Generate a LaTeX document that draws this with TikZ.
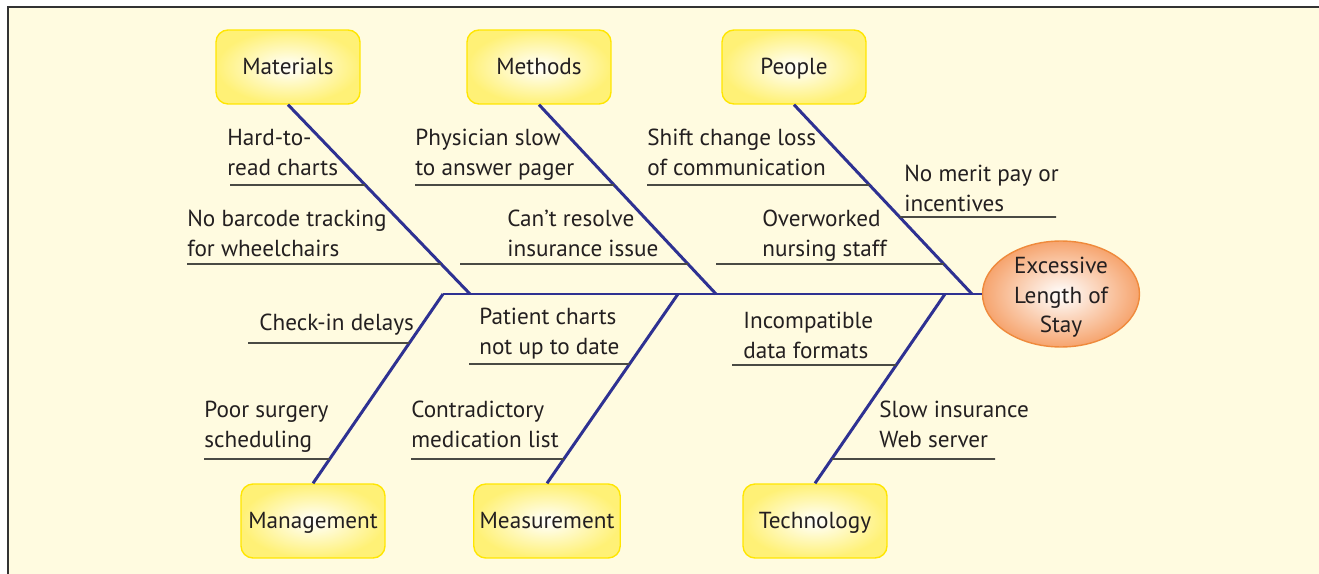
\documentclass[tikz,border=0pt]{standalone}
\usepackage{fontspec}
\setmainfont{PT Sans}
\usepackage{xcolor}
\usepackage{tikz}
\usetikzlibrary{shapes.geometric, calc}
\definecolor{paper}{HTML}{FFFBE0}
\definecolor{bonecol}{HTML}{2E3192}
\definecolor{twigcol}{HTML}{4A4A44}
\definecolor{boxyellow}{HTML}{FFF176}
\definecolor{boxedge}{HTML}{FFE600}
\definecolor{effectorange}{HTML}{F6A46E}
\definecolor{effectedge}{HTML}{EF8A3C}
\definecolor{inkcol}{HTML}{231F20}
\tikzset{
    fishbone/.style={x=0.02cm, y=-0.02cm, font=\fontsize{13.2}{17}\selectfont, text=inkcol},
    category/.style={rounded corners=0.24cm, draw=boxedge, line width=0.8pt,
        inner color=white, outer color=boxyellow,
        minimum width=2.88cm, minimum height=1.48cm, align=center,
        text height=12pt, text depth=2.9pt},
    effect/.style={ellipse, draw=effectedge, line width=0.8pt,
        inner color=white, outer color=effectorange,
        minimum width=3.14cm, minimum height=2.12cm,
        inner xsep=0pt, inner ysep=-4pt, align=center},
    cause/.style={anchor=north west, inner sep=0pt, align=left},
    bone/.style={draw=bonecol, line width=1.7pt},
    twig/.style={draw=twigcol, line width=0.9pt},
    frame/.style={draw=black!80, line width=1.2pt},
}

\begin{document}
\begin{tikzpicture}[fishbone]
    \useasboundingbox (0,0) rectangle (1319,574);
    \fill[paper] (8,7) rectangle (1319,574);
    \draw[frame] (8,574) -- (8,7) -- (1319,7);

    % head and categories
    \node[effect]   (effect)      at (1061,294) {\rule{0pt}{13pt}Excessive\\Length of\\Stay};
    \node[category] (materials)   at (288,67)   {Materials};
    \node[category] (methods)     at (539,67)   {Methods};
    \node[category] (people)      at (794,67)   {People};
    \node[category] (management)  at (313,521)  {Management};
    \node[category] (measurement) at (547,521)  {Measurement};
    \node[category] (technology)  at (815,521)  {Technology};

    % joints on the spine
    \coordinate (tail) at (443,294);
    \coordinate (jmat) at (470,294);
    \coordinate (jmet) at (716,294);
    \coordinate (jpeo) at (972,294);
    \coordinate (jman) at (443,294);
    \coordinate (jmea) at (678,294);
    \coordinate (jtec) at (945,294);

    % spine and bones
    \draw[bone] (tail) -- (effect.west);
    \draw[bone] (materials.south) -- (jmat);
    \draw[bone] (methods.south) -- (jmet);
    \draw[bone] (people.south) -- (jpeo);
    \draw[bone] (management.north) -- (jman);
    \draw[bone] (measurement.north) -- (jmea);
    \draw[bone] (technology.north) -- (jtec);

    % causes
    \node[cause] (hard)      at (227,129) {Hard-to-\\read charts};
    \node[cause] (barcode)   at (187,210) {No barcode tracking\\for wheelchairs};
    \node[cause] (pager)     at (415,129) {Physician slow\\to answer pager};
    \node[cause] (resolve)   at (507,210) {Can’t resolve\\insurance issue};
    \node[cause] (shift)     at (647,129) {Shift change loss\\of communication};
    \node[cause] (overwork)  at (762,210) {Overworked\\nursing staff};
    \node[cause] (merit)     at (904,165) {No merit pay or\\incentives};
    \node[cause] (checkin)   at (259,314) {Check-in delays};
    \node[cause] (surgery)   at (204,401) {Poor surgery\\scheduling};
    \node[cause] (charts)    at (479,308) {Patient charts\\not up to date};
    \node[cause] (medlist)   at (411,401) {Contradictory\\medication list};
    \node[cause] (formats)   at (743,312) {Incompatible\\data formats};
    \node[cause] (server)    at (879,401) {Slow insurance\\Web server};

    % twigs under each cause
    \draw[twig] (230,185) -- (intersection of materials.south--jmat and 0,185--1,185);
    \draw[twig] (187,264) -- (intersection of materials.south--jmat and 0,264--1,264);
    \draw[twig] (415,185) -- (intersection of methods.south--jmet and 0,185--1,185);
    \draw[twig] (460,264) -- (intersection of methods.south--jmet and 0,264--1,264);
    \draw[twig] (647,185) -- (intersection of people.south--jpeo and 0,185--1,185);
    \draw[twig] (716,264) -- (intersection of people.south--jpeo and 0,264--1,264);
    \draw[twig] (intersection of people.south--jpeo and 0,217--1,217) -- (1056,217);
    \draw[twig] (248,343) -- (intersection of management.north--jman and 0,343--1,343);
    \draw[twig] (204,459) -- (intersection of management.north--jman and 0,459--1,459);
    \draw[twig] (469,364) -- (intersection of measurement.north--jmea and 0,364--1,364);
    \draw[twig] (411,459) -- (intersection of measurement.north--jmea and 0,459--1,459);
    \draw[twig] (732,365) -- (intersection of technology.north--jtec and 0,365--1,365);
    \draw[twig] (intersection of technology.north--jtec and 0,459--1,459) -- (995,459);
\end{tikzpicture}
\end{document}
